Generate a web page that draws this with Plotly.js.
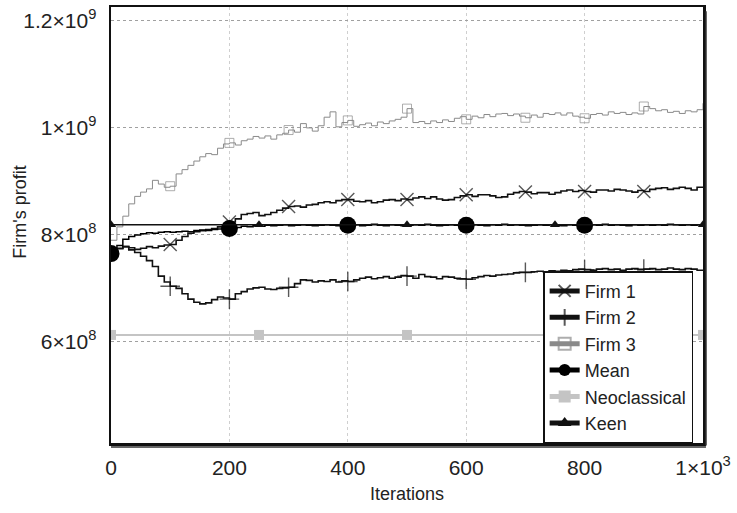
<!DOCTYPE html>
<html>
<head>
<meta charset="utf-8">
<script src="https://cdn.plot.ly/plotly-3.0.1.min.js"></script>
<style>
  html, body { margin: 0; padding: 0; background: #fff; }
  #chart { width: 737px; height: 513px; }
</style>
</head>
<body>
<div id="chart"></div>
<script>
// Iterations sampled every 10 steps (0..1000)
const iterations = [];
for (let i = 0; i <= 1000; i += 10) iterations.push(i);

// Profits in millions
const firm1 = [768,775,778,776,773,775,778,776,779,781,782,790,797,803,806,808,810,812,815,818,
  824,830,838,840,842,836,838,842,846,850,853,854,852,856,857,860,862,860,864,866,
  866,863,862,864,860,862,865,866,864,867,866,869,871,868,871,867,865,866,870,873,
  875,872,875,875,873,870,871,876,879,881,880,877,879,879,876,879,882,884,881,883,
  881,880,884,884,882,885,884,882,880,883,881,885,887,888,885,887,889,887,884,889,888];

const firm2 = [768,774,778,772,767,760,752,741,723,712,704,700,690,680,674,671,673,679,684,682,
  680,690,694,699,701,702,699,698,700,701,702,709,716,715,712,714,713,716,712,714,
  713,716,719,721,718,720,722,719,721,724,723,719,726,722,721,718,722,721,719,718,
  717,720,722,724,723,725,726,727,729,730,730,731,732,731,733,732,734,733,735,736,
  735,734,736,737,735,736,734,736,737,735,736,737,735,736,738,736,735,737,736,734,735];

const firm3 = [790,815,835,858,872,880,886,902,895,889,891,914,922,930,938,946,952,950,962,970,
  972,968,976,979,984,981,985,979,987,990,996,992,1008,1000,994,1004,1020,1030,1002,1010,
  1014,1003,1006,1009,1004,1011,1008,1013,1016,1020,1036,1010,1012,1008,1013,1010,1015,1012,1018,1021,
  1016,1022,1019,1025,1021,1026,1027,1023,1026,1022,1019,1024,1020,1027,1025,1028,1024,1028,1022,1020,
  1018,1025,1027,1024,1030,1027,1029,1025,1028,1026,1040,1036,1032,1034,1029,1031,1027,1032,1030,1034,1046];

const meanProfit = [765,780,792,797,800,802,804,803,805,806,805,806,807,806,808,809,808,810,811,812,
  812,814,816,815,817,816,818,817,818,819,817,818,819,818,817,818,819,818,817,818,
  818,819,817,818,820,818,817,819,818,817,818,819,818,820,818,817,818,819,818,817,
  818,819,818,817,819,818,820,818,819,818,817,818,819,818,819,818,817,819,818,819,
  818,819,818,820,818,819,818,817,819,818,819,818,819,818,820,819,818,819,818,819,818];

const refIterations = [0, 250, 500, 750, 1000];
const neoclassical = [613, 613, 613, 613, 613];
const keen = [819, 819, 819, 819, 819];

const yTickVals = [600, 800, 1000, 1200];
const yTickText = ['6×10<sup>8</sup>', '8×10<sup>8</sup>', '1×10<sup>9</sup>', '1.2×10<sup>9</sup>'];
const xTickVals = [0, 200, 400, 600, 800, 1000];
const xTickText = ['0', '200', '400', '600', '800', '1×10<sup>3</sup>'];

const M = v => v.map(d => d * 1e6);
function sizes(xs, step, lo, hi, s) {
  return xs.map(x => (x % step === 0 && x >= lo && x <= hi) ? s : 0);
}

const traces = [
  { name: 'Firm 1', x: iterations, y: M(firm1), mode: 'lines+markers',
    line: { color: '#111', width: 1.6, shape: 'hv' },
    marker: { symbol: 'x-thin-open', color: '#111', size: sizes(iterations, 100, 100, 900, 13), line: { color: '#111', width: 1.4 } } },
  { name: 'Firm 2', x: iterations, y: M(firm2), mode: 'lines+markers',
    line: { color: '#111', width: 1.6, shape: 'hv' },
    marker: { symbol: 'cross-thin-open', color: '#111', size: sizes(iterations, 100, 100, 900, 14), line: { color: '#111', width: 1.4 } } },
  { name: 'Firm 3', x: iterations, y: M(firm3), mode: 'lines+markers',
    line: { color: '#8a8a8a', width: 1, shape: 'hv' },
    marker: { symbol: 'square-open', color: '#8a8a8a', size: sizes(iterations, 100, 100, 900, 9), line: { color: '#8a8a8a', width: 1 } } },
  { name: 'Mean', x: iterations, y: M(meanProfit), mode: 'lines+markers',
    line: { color: '#000', width: 1.5, shape: 'hv' },
    marker: { symbol: 'circle', color: '#000', opacity: 1, size: sizes(iterations, 200, 0, 800, 17), line: { width: 0 } } },
  { name: 'Neoclassical', x: refIterations, y: M(neoclassical), mode: 'lines+markers',
    line: { color: '#c4c4c4', width: 2 },
    marker: { symbol: 'square', color: '#c4c4c4', size: 10 } },
  { name: 'Keen', x: refIterations, y: M(keen), mode: 'lines+markers',
    line: { color: '#111', width: 1.3 },
    marker: { symbol: 'triangle-up', color: '#111', size: 9 } }
];

const font = 'Liberation Sans, Arial, Helvetica, sans-serif';
const layout = {
  width: 737, height: 513,
  margin: { l: 111, r: 34, t: 7, b: 70 },
  paper_bgcolor: '#fff', plot_bgcolor: '#fff',
  font: { family: font, color: '#222', size: 20 },
  showlegend: true,
  legend: {
    x: 0.73, y: 0.394, xanchor: 'left', yanchor: 'top',
    bgcolor: '#fff', bordercolor: '#111', borderwidth: 1.5,
    font: { family: font, size: 18, color: '#222' },
    itemsizing: 'constant', tracegroupgap: 0, itemwidth: 30
  },
  xaxis: {
    range: [0, 1000], tickvals: xTickVals, ticktext: xTickText,
    tickfont: { family: font, size: 21, color: '#222' },
    showgrid: true, gridcolor: '#cfcfcf', griddash: 'dot', gridwidth: 1,
    zeroline: false, showline: true, mirror: true, linecolor: '#111', linewidth: 2.5,
    ticks: '', ticklabelstandoff: 4,
    title: { text: 'Iterations', font: { size: 18, family: font, color: '#222' }, standoff: 10 }
  },
  yaxis: {
    range: [411e6, 1226e6], tickvals: M(yTickVals), ticktext: yTickText,
    tickfont: { family: font, size: 21, color: '#222' },
    showgrid: true, gridcolor: '#a0a0a0', griddash: 'dot', gridwidth: 1,
    zeroline: false, showline: true, mirror: true, linecolor: '#111', linewidth: 2.5,
    ticks: '', ticklabelstandoff: 8
  },
  annotations: [
    { text: "Firm's profit", xref: 'paper', yref: 'paper', x: -0.154, y: 0.53,
      xanchor: 'center', yanchor: 'middle', textangle: -90, showarrow: false,
      font: { size: 18, family: font, color: '#222' } }
  ],
  shapes: [
    { type: 'line', xref: 'paper', yref: 'paper', xsizemode: 'pixel', xanchor: 1, x0: 3, x1: 3, y0: -0.006, y1: 0.99,
      line: { color: '#333', width: 1.5 } },
    { type: 'line', xref: 'paper', yref: 'paper', ysizemode: 'pixel', yanchor: 0, y0: -4, y1: -4, x0: 0, x1: 1.005,
      line: { color: '#333', width: 1.5 } }
  ]
};

Plotly.newPlot('chart', traces, layout, { displayModeBar: false, staticPlot: true });
</script>
</body>
</html>
